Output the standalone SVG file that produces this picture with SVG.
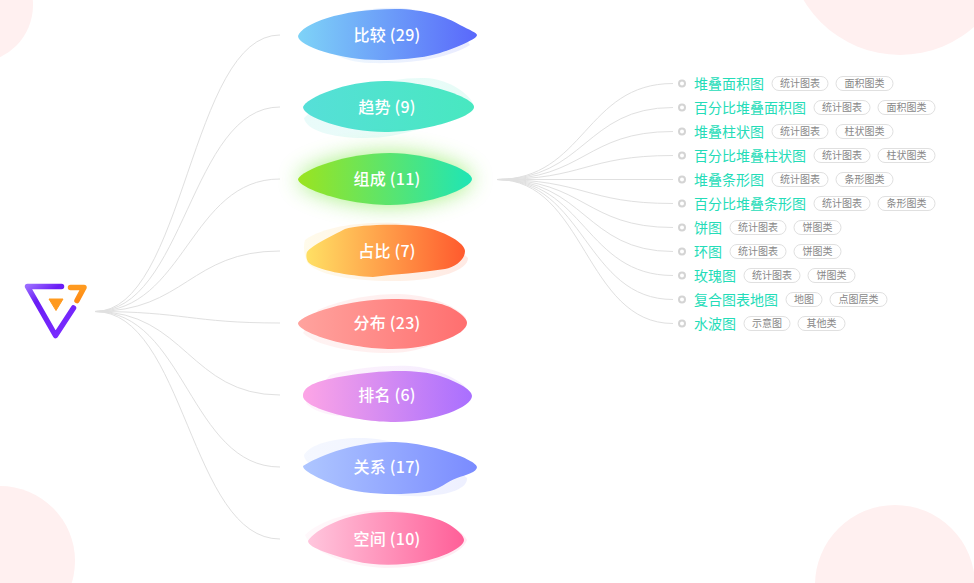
<svg xmlns="http://www.w3.org/2000/svg" width="974" height="583" viewBox="0 0 974 583">
<style>
text{font-family:"Noto Sans CJK SC","Noto Sans",sans-serif}
.c{fill:none;stroke:#e0e0e0;stroke-width:1}
.n{fill:#fff;font-size:16px;font-weight:500;text-anchor:middle;letter-spacing:.25px}
.l{fill:#24dcb8;font-size:14px;font-weight:400}
.d{fill:#fff;stroke:#d4d4d4;stroke-width:2}
.t{fill:#fff;stroke:#e0e0e0;stroke-width:1}
.x{fill:#888;font-size:10px;text-anchor:middle}
.b{opacity:.13}
</style>
<defs>
<linearGradient id="g1"><stop offset="0" stop-color="#7ed3f7"/><stop offset="1" stop-color="#5a68fb"/></linearGradient>
<linearGradient id="g2"><stop offset="0" stop-color="#56dfd8"/><stop offset="1" stop-color="#48e8c0"/></linearGradient>
<linearGradient id="g3"><stop offset="0" stop-color="#9be41f"/><stop offset="1" stop-color="#1fe5b6"/></linearGradient>
<linearGradient id="g4"><stop offset="0" stop-color="#ffe064"/><stop offset="1" stop-color="#ff5a2e"/></linearGradient>
<linearGradient id="g5"><stop offset="0" stop-color="#ffa39e"/><stop offset="1" stop-color="#ff6f6f"/></linearGradient>
<linearGradient id="g6"><stop offset="0" stop-color="#fda5e6"/><stop offset="1" stop-color="#a96fff"/></linearGradient>
<linearGradient id="g7"><stop offset="0" stop-color="#aec6ff"/><stop offset="1" stop-color="#7a8bff"/></linearGradient>
<linearGradient id="g8"><stop offset="0" stop-color="#ffc6dd"/><stop offset="1" stop-color="#ff5f98"/></linearGradient>
<linearGradient id="lp" gradientUnits="userSpaceOnUse" x1="27" y1="286" x2="62" y2="336"><stop offset="0" stop-color="#9a6cff"/><stop offset=".3" stop-color="#6a1cf5"/><stop offset="1" stop-color="#7a2cff"/></linearGradient>
<linearGradient id="lo" x1="0" y1="0" x2="0" y2="1"><stop offset="0" stop-color="#ff9a1f"/><stop offset="1" stop-color="#ff8a14"/></linearGradient>
<filter id="glow" x="-30%" y="-80%" width="160%" height="260%"><feGaussianBlur stdDeviation="11"/></filter>
</defs>

<g id="bg">
<circle cx="-25" cy="5" r="58" fill="#fff0f0"/>
<circle cx="900" cy="-57" r="112" fill="#fff0f0"/>
<circle cx="0" cy="561" r="75" fill="#fff0f0"/>
<circle cx="895" cy="585" r="80" fill="#fff0f0"/>
</g>

<g id="connectors">
<path class="c" d="M95 311.5C185 311.5 190 35 280 35"/>
<path class="c" d="M95 311.5C185 311.5 190 107 280 107"/>
<path class="c" d="M95 311.5C185 311.5 190 179 280 179"/>
<path class="c" d="M95 311.5C185 311.5 190 251 280 251"/>
<path class="c" d="M95 311.5C185 311.5 190 323 280 323"/>
<path class="c" d="M95 311.5C185 311.5 190 395 280 395"/>
<path class="c" d="M95 311.5C185 311.5 190 467 280 467"/>
<path class="c" d="M95 311.5C185 311.5 190 539 280 539"/>
<path class="c" d="M497 179.5C585 179.5 585 83.5 673 83.5"/>
<path class="c" d="M497 179.5C585 179.5 585 107.5 673 107.5"/>
<path class="c" d="M497 179.5C585 179.5 585 131.5 673 131.5"/>
<path class="c" d="M497 179.5C585 179.5 585 155.5 673 155.5"/>
<path class="c" d="M497 179.5L673 179.5"/>
<path class="c" d="M497 179.5C585 179.5 585 203.5 673 203.5"/>
<path class="c" d="M497 179.5C585 179.5 585 227.5 673 227.5"/>
<path class="c" d="M497 179.5C585 179.5 585 251.5 673 251.5"/>
<path class="c" d="M497 179.5C585 179.5 585 275.5 673 275.5"/>
<path class="c" d="M497 179.5C585 179.5 585 299.5 673 299.5"/>
<path class="c" d="M497 179.5C585 179.5 585 323.5 673 323.5"/>
</g>

<g id="root">
<path d="M61.5 286.5H27.5L55.5 335.5L73.5 308" fill="none" stroke="url(#lp)" stroke-width="5.5" stroke-linecap="round" stroke-linejoin="round"/>
<path d="M70.5 287.5H84L77 300.5" fill="none" stroke="url(#lo)" stroke-width="5.5" stroke-linecap="round" stroke-linejoin="round"/>
<path d="M49 299H63L56 310.5Z" fill="#ff9a1f" stroke="#ff9a1f" stroke-width="1" stroke-linejoin="round"/>
</g>

<g id="n1">
<path class="b" fill="url(#g1)" d="M306 30C335 14 370 6 402 8C435 11 462 30 470 45C445 60 405 64 370 63C340 62 318 48 306 30Z"/>
<path fill="url(#g1)" d="M298 36C302 24 340 9 395 9C425 9 447 17 460 25C470 30 477 33 477 35C477 39 458 47 440 53C420 59 395 60 380 60C340 60 298 46 298 36Z"/>
<text class="n" x="387" y="41">比较 (29)</text>
</g>
<g id="n2">
<path class="b" fill="url(#g2)" d="M304 118C330 90 390 77 425 78C450 79 470 95 473 104C440 125 400 138 365 138C330 138 306 130 304 118Z"/>
<path fill="url(#g2)" d="M303 107C306 98 345 81 385 81C425 81 474 97 474 107C474 117 425 132 385 132C345 132 303 117 303 107Z"/>
<text class="n" x="387" y="113">趋势 (9)</text>
</g>
<g id="n3">
<path fill="#7fe84a" opacity=".7" filter="url(#glow)" d="M298 179C302 170 345 153 390 153C430 153 472 170 472 179C472 188 430 205 390 205C345 205 298 188 298 179Z"/>
<path fill="url(#g3)" d="M298 179C302 170 345 153 390 153C430 153 472 170 472 179C472 188 430 205 390 205C345 205 298 188 298 179Z"/>
<text class="n" x="387" y="185">组成 (11)</text>
</g>
<g id="n4">
<path class="b" fill="url(#g4)" d="M305 240C325 226 360 222 395 223C425 225 450 240 468 258C468 270 440 280 400 281C355 282 315 275 307 262C304 255 303 246 305 240Z"/>
<path fill="url(#g4)" d="M307 252C312 245 332 236 345 229C360 224 410 223 428 228C445 232 465 243 465 251C465 260 455 267 445 269C420 273 395 274 373 277C350 276 315 270 308 262C306 258 306 255 307 252Z"/>
<text class="n" x="387" y="257">占比 (7)</text>
</g>
<g id="n5">
<path class="b" fill="url(#g5)" d="M318 310C345 298 375 294 398 294C430 295 455 305 466 318C460 335 425 353 390 353C350 353 315 345 303 333Z"/>
<path fill="url(#g5)" d="M298 323C302 314 350 299 392 299C428 299 448 304 458 312C464 316 467 320 467 323C467 335 430 349 392 349C350 349 298 333 298 323Z"/>
<text class="n" x="387" y="329">分布 (23)</text>
</g>
<g id="n6">
<path class="b" fill="url(#g6)" d="M330 375C355 368 385 365 410 366C435 368 460 378 470 392L400 410C370 420 320 420 306 403Z"/>
<path fill="url(#g6)" d="M303 396C303 385 320 380 345 376C375 371 415 368 440 376C455 381 472 389 472 396C472 407 435 422 395 422C355 422 303 408 303 396Z"/>
<text class="n" x="387" y="401">排名 (6)</text>
</g>
<g id="n7">
<path class="b" fill="url(#g7)" d="M304 455C310 444 335 437 365 438C400 440 440 455 467 478C468 488 450 495 425 496C385 498 340 485 318 470C310 465 304 460 304 455Z"/>
<path fill="url(#g7)" d="M303 466C315 458 350 442 392 442C430 442 477 460 477 467C477 472 466 475 457 478C447 481 440 490 425 492C395 496 360 494 340 487C325 481 303 472 303 466Z"/>
<text class="n" x="387" y="473">关系 (17)</text>
</g>
<g id="n8">
<path class="b" fill="url(#g8)" d="M305 535C320 520 355 510 385 510C420 511 460 525 467 540C462 555 425 568 385 568C345 566 312 552 305 535Z"/>
<path fill="url(#g8)" d="M308 541C315 530 345 512 387 512C415 512 440 518 450 525C458 530 464 536 464 540C464 548 442 557 425 561C400 566 375 566 355 561C335 556 308 548 308 541Z"/>
<text class="n" x="387" y="545">空间 (10)</text>
</g>

<g id="leaf1"><circle class="d" cx="682" cy="83.5" r="3"/><text class="l" x="694" y="88.5">堆叠面积图</text><rect class="t" x="772" y="76.5" width="56" height="14" rx="7"/><text class="x" x="800" y="87">统计图表</text><rect class="t" x="836" y="76.5" width="57" height="14" rx="7"/><text class="x" x="864.5" y="87">面积图类</text></g>
<g id="leaf2"><circle class="d" cx="682" cy="107.5" r="3"/><text class="l" x="694" y="112.5">百分比堆叠面积图</text><rect class="t" x="814" y="100.5" width="56" height="14" rx="7"/><text class="x" x="842" y="111">统计图表</text><rect class="t" x="878" y="100.5" width="57" height="14" rx="7"/><text class="x" x="906.5" y="111">面积图类</text></g>
<g id="leaf3"><circle class="d" cx="682" cy="131.5" r="3"/><text class="l" x="694" y="136.5">堆叠柱状图</text><rect class="t" x="772" y="124.5" width="56" height="14" rx="7"/><text class="x" x="800" y="135">统计图表</text><rect class="t" x="836" y="124.5" width="57" height="14" rx="7"/><text class="x" x="864.5" y="135">柱状图类</text></g>
<g id="leaf4"><circle class="d" cx="682" cy="155.5" r="3"/><text class="l" x="694" y="160.5">百分比堆叠柱状图</text><rect class="t" x="814" y="148.5" width="56" height="14" rx="7"/><text class="x" x="842" y="159">统计图表</text><rect class="t" x="878" y="148.5" width="57" height="14" rx="7"/><text class="x" x="906.5" y="159">柱状图类</text></g>
<g id="leaf5"><circle class="d" cx="682" cy="179.5" r="3"/><text class="l" x="694" y="184.5">堆叠条形图</text><rect class="t" x="772" y="172.5" width="56" height="14" rx="7"/><text class="x" x="800" y="183">统计图表</text><rect class="t" x="836" y="172.5" width="57" height="14" rx="7"/><text class="x" x="864.5" y="183">条形图类</text></g>
<g id="leaf6"><circle class="d" cx="682" cy="203.5" r="3"/><text class="l" x="694" y="208.5">百分比堆叠条形图</text><rect class="t" x="814" y="196.5" width="56" height="14" rx="7"/><text class="x" x="842" y="207">统计图表</text><rect class="t" x="878" y="196.5" width="57" height="14" rx="7"/><text class="x" x="906.5" y="207">条形图类</text></g>
<g id="leaf7"><circle class="d" cx="682" cy="227.5" r="3"/><text class="l" x="694" y="232.5">饼图</text><rect class="t" x="730" y="220.5" width="56" height="14" rx="7"/><text class="x" x="758" y="231">统计图表</text><rect class="t" x="794" y="220.5" width="47" height="14" rx="7"/><text class="x" x="817.5" y="231">饼图类</text></g>
<g id="leaf8"><circle class="d" cx="682" cy="251.5" r="3"/><text class="l" x="694" y="256.5">环图</text><rect class="t" x="730" y="244.5" width="56" height="14" rx="7"/><text class="x" x="758" y="255">统计图表</text><rect class="t" x="794" y="244.5" width="47" height="14" rx="7"/><text class="x" x="817.5" y="255">饼图类</text></g>
<g id="leaf9"><circle class="d" cx="682" cy="275.5" r="3"/><text class="l" x="694" y="280.5">玫瑰图</text><rect class="t" x="744" y="268.5" width="56" height="14" rx="7"/><text class="x" x="772" y="279">统计图表</text><rect class="t" x="808" y="268.5" width="47" height="14" rx="7"/><text class="x" x="831.5" y="279">饼图类</text></g>
<g id="leaf10"><circle class="d" cx="682" cy="299.5" r="3"/><text class="l" x="694" y="304.5">复合图表地图</text><rect class="t" x="786" y="292.5" width="36" height="14" rx="7"/><text class="x" x="804" y="303">地图</text><rect class="t" x="830" y="292.5" width="57" height="14" rx="7"/><text class="x" x="858.5" y="303">点图层类</text></g>
<g id="leaf11"><circle class="d" cx="682" cy="323.5" r="3"/><text class="l" x="694" y="328.5">水波图</text><rect class="t" x="744" y="316.5" width="46" height="14" rx="7"/><text class="x" x="767" y="327">示意图</text><rect class="t" x="798" y="316.5" width="47" height="14" rx="7"/><text class="x" x="821.5" y="327">其他类</text></g>
</svg>
